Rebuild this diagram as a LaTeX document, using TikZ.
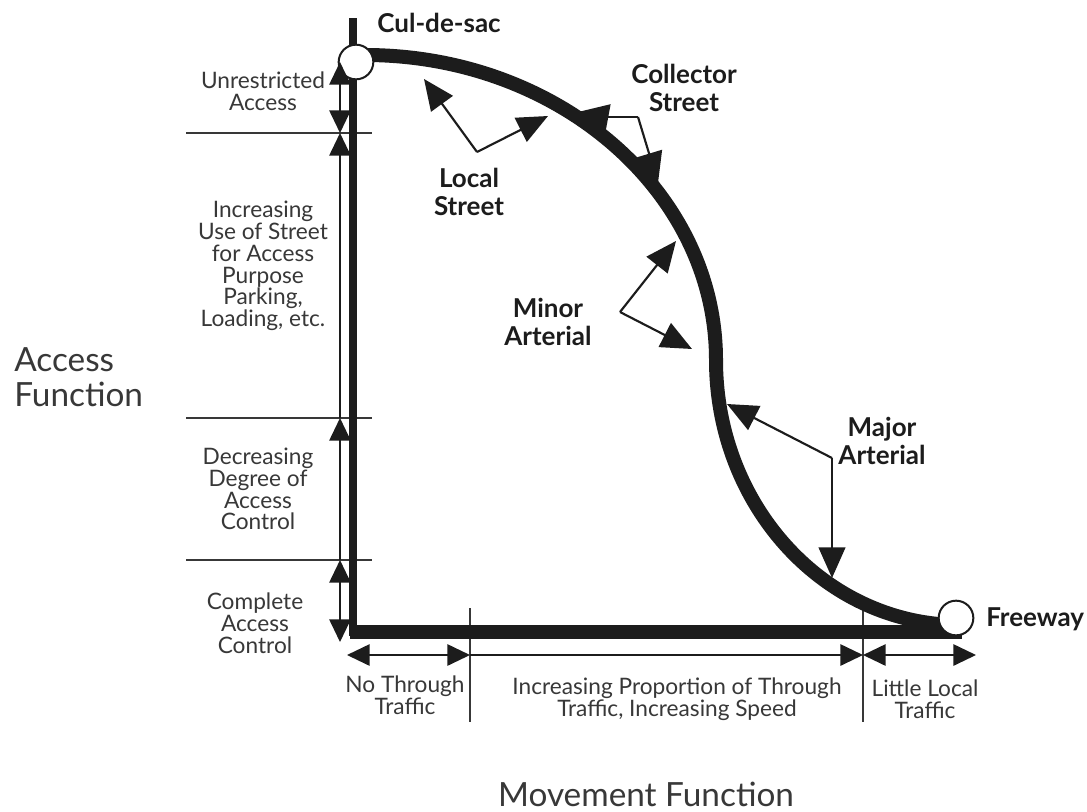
\documentclass[tikz,border=0pt]{standalone}
\usepackage{fontspec}
\setmainfont{Lato}
\usetikzlibrary{arrows.meta}
\definecolor{ink}{HTML}{1C1C1C}
\definecolor{txt}{HTML}{383838}
\begin{document}
\begin{tikzpicture}[x=0.75pt,y=-0.75pt,
  vaxis/.style={draw=ink, line width=6pt},
  haxis/.style={draw=ink, line width=10pt},
  road/.style={draw=ink, line width=10.5pt},
  endcircle/.style={draw=ink, fill=white, line width=1.5pt, circle, minimum size=26pt, inner sep=0},
  dimline/.style={draw=ink, line width=1.4pt},
  sepline/.style={draw=txt, line width=1pt},
  dimtip/.tip={Triangle[length=17pt,width=16pt]},
  ptr/.style={draw=ink, line width=1.6pt, -{Triangle[length=23pt,width=20pt]}},
  lbl/.style={font=\fontsize{17}{16.3}\selectfont, text=txt, align=center, inner sep=0},
  blbl/.style={font=\bfseries\fontsize{19.5}{21}\selectfont, text=ink, align=center, inner sep=0},
  biglbl/.style={font=\fontsize{25}{26.3}\selectfont, text=txt, inner sep=0}]
\useasboundingbox (0,0) rectangle (1087,811);
\fill[white] (0,0) rectangle (1087,811);

% separator lines
\draw[sepline] (186,133) -- (372,133);
\draw[sepline] (186,418) -- (372,418);
\draw[sepline] (186,560) -- (372,560);
\draw[sepline] (470,608) -- (470,722);
\draw[sepline] (863,605) -- (863,722);

% axes
\draw[vaxis] (353,18) -- (353,636);
\draw[haxis] (350,632) -- (962,632);

% road curve
\draw[road] (365,55) .. controls (559,55) and (716,192) .. (716,360)
                     .. controls (716,506) and (825,625) .. (960,625);

% end circles
\node[endcircle] (cds) at (356,62) {};
\node[endcircle] (fwy) at (956,618) {};

% dimension arrows (left)
\coordinate (v0) at (340,62);
\coordinate (v1) at (340,133);
\coordinate (v2) at (340,418);
\coordinate (v3) at (340,560);
\coordinate (v4) at (340,642);
\draw[dimline, {dimtip}-{dimtip}] (v0) -- (v1);
\draw[dimline, -{dimtip}] (v2) -- (v1);
\draw[dimline, -{dimtip}] (v3) -- (v2);
\draw[dimline, {dimtip}-{dimtip}] (v3) -- (v4);

% dimension arrows (bottom)
\coordinate (h0) at (347,655);
\coordinate (h1) at (470,655);
\coordinate (h2) at (863,655);
\coordinate (h3) at (976,655);
\draw[dimline, {dimtip}-{dimtip}] (h0) -- (h1);
\draw[dimline, -{dimtip}] (h1) -- (h2);
\draw[dimline, {dimtip}-{dimtip}] (h2) -- (h3);

% pointers
\coordinate (lsv) at (477,152);
\coordinate (lst1) at (424,79);
\coordinate (lst2) at (548,116);
\draw[ptr] (lsv) -- (lst1);
\draw[ptr] (lsv) -- (lst2);

\coordinate (csv) at (638,117);
\coordinate (cs0) at (605,117);
\coordinate (cst1) at (578,112);
\coordinate (cst2) at (658,183);
\draw[ptr] (cs0) -- (cst1);
\draw[draw=ink, line width=1.6pt] (cs0) -- (csv);
\draw[ptr] (csv) -- (cst2);

\coordinate (mnv) at (620,312);
\coordinate (mnt1) at (676,241);
\coordinate (mnt2) at (692,349);
\draw[ptr] (mnv) -- (mnt1);
\draw[ptr] (mnv) -- (mnt2);

\coordinate (mjv) at (832,458);
\coordinate (mjt1) at (727,404);
\coordinate (mjt2) at (832,578);
\draw[ptr] (mjv) -- (mjt1);
\draw[ptr] (mjv) -- (mjt2);

% bold labels
\node[blbl] (lcds) at (439,23) {Cul-de-sac};
\node[blbl] (lcol) at (684,88) {Collector\\Street};
\node[blbl] (lloc) at (469,192) {Local\\Street};
\node[blbl] (lmin) at (548,322) {Minor\\Arterial};
\node[blbl] (lmaj) at (882,441) {Major\\Arterial};
\node[blbl, anchor=west] (lfwy) at (986,619) {Freeway};

% regular labels
\node[lbl] (t1) at (263,91) {Unrestricted\\Access};
\node[lbl] (t2) at (263,266) {Increasing\\Use of Street\\for Access\\Purpose\\Parking,\\Loading, etc.};
\node[lbl] (t3) at (258,489) {Decreasing\\Degree of\\Access\\Control};
\node[lbl] (t4) at (255,623) {Complete\\Access\\Control};
\node[lbl] (b1) at (405,695) {No Through\\Traffic};
\node[lbl] (b2) at (677,699) {Increasing Proportion of Through\\Traffic, Increasing Speed};
\node[lbl] (b3) at (925,699) {Little Local\\Traffic};

\node[biglbl, align=left, anchor=west] (af) at (14,377) {Access\\Function};
\node[biglbl, anchor=base] (mf) at (646,806) {Movement Function};
\end{tikzpicture}
\end{document}
